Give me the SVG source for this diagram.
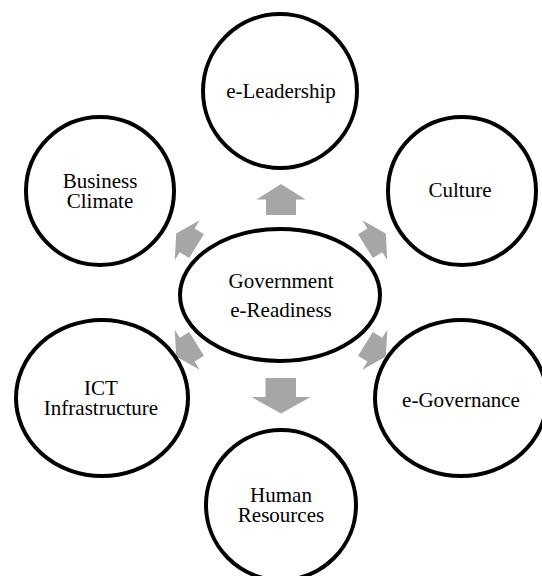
<svg xmlns="http://www.w3.org/2000/svg" width="542" height="576" viewBox="0 0 542 576">
<style>
.node{fill:#ffffff;stroke:#000000;stroke-width:4}
.lbl{font-family:"Liberation Serif","Times New Roman",serif;font-size:21px;fill:#000000;text-anchor:middle}
.arr{fill:#a6a6a6;stroke:none}
</style>
<defs>
<polygon id="darr" points="0,-13 23.5,0 14,0 14,11 -14,11 -14,0 -23.5,0"/>
</defs>
<rect width="542" height="576" fill="#ffffff"/>
<g id="connectors" class="arr">
<polygon points="281,184 305.5,199.5 296,199.5 296,215 266,215 266,199.5 256.5,199.5"/>
<polygon points="265.5,378 296,378 296,397 310.5,397 281,413.5 251.5,397 265.5,397"/>
<use href="#darr" transform="translate(187.2,240.3) rotate(-58)"/>
<use href="#darr" transform="translate(374.8,240.3) rotate(58)"/>
<use href="#darr" transform="translate(187.2,349.7) rotate(-122)"/>
<use href="#darr" transform="translate(374.8,349.7) rotate(122)"/>
</g>
<g id="center">
<ellipse class="node" cx="280" cy="295" rx="100" ry="66"/>
<text class="lbl" x="281" y="288">Government</text>
<text class="lbl" x="281" y="317">e-Readiness</text>
</g>
<g id="leadership">
<circle class="node" cx="280" cy="91" r="77"/>
<text class="lbl" x="281" y="98">e-Leadership</text>
</g>
<g id="business">
<circle class="node" cx="100" cy="191" r="74"/>
<text class="lbl" x="100" y="188">Business</text>
<text class="lbl" x="100" y="208">Climate</text>
</g>
<g id="culture">
<circle class="node" cx="462" cy="191" r="74"/>
<text class="lbl" x="460" y="197">Culture</text>
</g>
<g id="ict">
<ellipse class="node" cx="102" cy="398" rx="86" ry="78"/>
<text class="lbl" x="101" y="395">ICT</text>
<text class="lbl" x="101" y="415">Infrastructure</text>
</g>
<g id="governance">
<ellipse class="node" cx="461" cy="398" rx="86" ry="78"/>
<text class="lbl" x="461" y="407">e-Governance</text>
</g>
<g id="human">
<circle class="node" cx="281" cy="505" r="75"/>
<text class="lbl" x="281" y="502">Human</text>
<text class="lbl" x="281" y="522">Resources</text>
</g>
</svg>
